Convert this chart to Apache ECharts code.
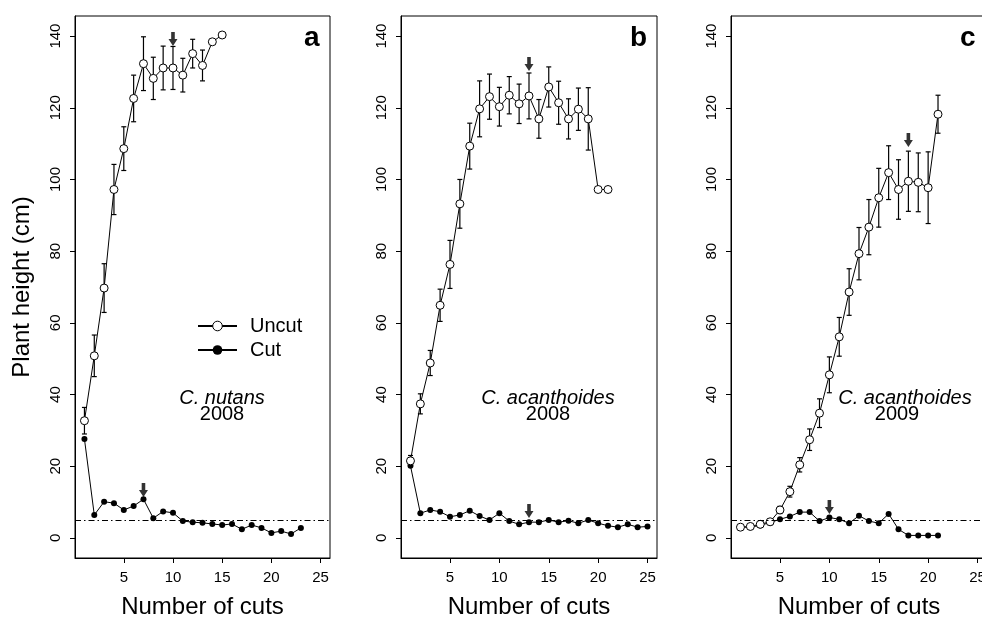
<!DOCTYPE html>
<html>
<head>
<meta charset="utf-8">
<script src="https://cdn.jsdelivr.net/npm/echarts@6/dist/echarts.min.js"></script>
<style>
html,body{margin:0;padding:0;background:#fff;}
#chart{width:982px;height:623px;}
</style>
</head>
<body>
<div id="chart"></div>
<script>
// ---- data ----
var xTicks = [5, 10, 15, 20, 25];
var yTicks = [0, 20, 40, 60, 80, 100, 120, 140];

// Panel a: C. nutans 2008
var uncutA = [32.7, 50.8, 69.7, 97.2, 108.6, 122.6, 132.3, 128.2, 131.1, 131.1, 129.1, 135.1, 131.8, 138.4, 140.3];
var seA    = [3.7, 5.8, 6.8, 7.0, 6.1, 6.5, 7.5, 5.9, 6.1, 6.0, 4.7, 4.0, 4.3, 0, 0];
var cutA   = [27.6, 6.4, 10.1, 9.7, 7.8, 8.9, 10.8, 5.5, 7.4, 7.0, 4.7, 4.4, 4.2, 3.9, 3.6, 3.9, 2.4, 3.6, 2.8, 1.4, 1.9, 1.1, 2.8];
var arrowsA = [[10, 139.2], [7, 13.4]];

// Panel b: C. acanthoides 2008
var uncutB = [21.5, 37.4, 48.8, 64.9, 76.3, 93.2, 109.3, 119.7, 123.1, 120.3, 123.5, 121.1, 123.3, 116.9, 125.8, 121.4, 116.9, 119.6, 116.9, 97.2, 97.2];
var seB    = [1.5, 2.8, 3.5, 4.5, 6.7, 6.8, 6.4, 7.8, 6.3, 5.4, 5.2, 5.5, 6.4, 5.4, 5.6, 6.0, 5.6, 5.9, 8.7, 0, 0];
var cutB   = [20.1, 6.9, 7.8, 7.3, 5.9, 6.4, 7.6, 6.1, 5.0, 6.9, 4.7, 3.8, 4.4, 4.4, 5.0, 4.4, 4.8, 4.1, 5.0, 4.1, 3.4, 3.0, 3.8, 3.0, 3.2];
var arrowsB = [[13, 132.2], [13, 7.5]];

// Panel c: C. acanthoides 2009
var uncutC = [3.0, 3.2, 3.8, 4.5, 7.8, 12.9, 20.4, 27.4, 34.8, 45.5, 56.1, 68.6, 79.3, 86.7, 94.9, 101.9, 97.2, 99.5, 99.2, 97.7, 118.2];
var seC    = [0.5, 0.5, 0.8, 0.8, 1.0, 1.5, 2.0, 3.0, 4.0, 5.0, 5.4, 6.5, 7.3, 7.7, 8.2, 7.5, 8.3, 8.4, 8.2, 10.0, 5.3];
var cutC   = [3.0, 3.0, 3.5, 4.3, 5.2, 6.0, 7.2, 7.2, 4.7, 5.7, 5.2, 4.1, 6.2, 4.7, 4.1, 6.7, 2.4, 0.7, 0.7, 0.7, 0.7];
var arrowsC = [[18, 111], [10, 8.6]];

var threshold = 5;
var panelLetters = ['a', 'b', 'c'];
var speciesNames = ['C. nutans', 'C. acanthoides', 'C. acanthoides'];
var years = ['2008', '2008', '2009'];

// ---- layout ----
var FONT = '"Liberation Sans", Arial, Helvetica, sans-serif';
var panels = [
  {uncut: uncutA, se: seA, cut: cutA, arrows: arrowsA, left: 75, width: 255},
  {uncut: uncutB, se: seB, cut: cutB, arrows: arrowsB, left: 401, width: 256},
  {uncut: uncutC, se: seC, cut: cutC, arrows: arrowsC, left: 731, width: 256}
];
var TOP = 16, HEIGHT = 542;

function toXY(arr) { return arr.map(function (v, i) { return [i + 1, v]; }); }
function errData(m, s) {
  var out = [];
  m.forEach(function (v, i) { if (s[i] > 0) out.push([i + 1, v - s[i], v + s[i]]); });
  return out;
}
function renderErr(params, api) {
  var x = api.value(0), lo = api.value(1), hi = api.value(2);
  var p1 = api.coord([x, lo]), p2 = api.coord([x, hi]);
  var w = 2.5;
  var st = {stroke: '#000', lineWidth: 1.2};
  return {type: 'group', children: [
    {type: 'line', shape: {x1: p1[0], y1: p1[1], x2: p2[0], y2: p2[1]}, style: st},
    {type: 'line', shape: {x1: p1[0] - w, y1: p1[1], x2: p1[0] + w, y2: p1[1]}, style: st},
    {type: 'line', shape: {x1: p2[0] - w, y1: p2[1], x2: p2[0] + w, y2: p2[1]}, style: st}
  ]};
}
var arrowPath = 'path://M3,0 L7,0 L7,7 L10,7 L5,14 L0,7 L3,7 Z';

var grids = [], xAxes = [], yAxes = [], series = [], graphics = [];
panels.forEach(function (p, i) {
  grids.push({left: p.left, top: TOP, width: p.width, height: HEIGHT, show: true,
    borderColor: '#000', borderWidth: 1, backgroundColor: 'transparent',
    containLabel: false, outerBoundsMode: 'none'});
  xAxes.push({type: 'value', gridIndex: i, min: 0.04, max: 25.96,
    axisLine: {show: true, onZero: false, lineStyle: {color: '#000', width: 1}},
    axisTick: {show: true, length: 5, customValues: xTicks, lineStyle: {color: '#000'}},
    axisLabel: {customValues: xTicks, fontSize: 15, color: '#000', margin: 12, fontFamily: FONT},
    splitLine: {show: false},
    name: 'Number of cuts', nameLocation: 'middle', nameGap: 37,
    nameTextStyle: {fontSize: 24, color: '#000', fontFamily: FONT}});
  var ya = {type: 'value', gridIndex: i, min: -5.6, max: 145.6,
    axisLine: {show: true, onZero: false, lineStyle: {color: '#000', width: 1}},
    axisTick: {show: true, length: 5, customValues: yTicks, lineStyle: {color: '#000'}},
    axisLabel: {customValues: yTicks, rotate: 90, fontSize: 15, color: '#000', margin: 12, fontFamily: FONT},
    splitLine: {show: false}};
  if (i === 0) {
    ya.name = 'Plant height (cm)';
    ya.nameLocation = 'middle';
    ya.nameGap = 41;
    ya.nameTextStyle = {fontSize: 24, color: '#000', fontFamily: FONT};
  }
  yAxes.push(ya);

  series.push({type: 'custom', xAxisIndex: i, yAxisIndex: i, renderItem: renderErr,
    encode: {x: 0, y: [1, 2]}, data: errData(p.uncut, p.se), z: 1, silent: true});
  series.push({name: 'Cut', type: 'line', xAxisIndex: i, yAxisIndex: i, data: toXY(p.cut),
    symbol: 'circle', symbolSize: 6, color: '#000',
    itemStyle: {color: '#000', borderWidth: 0},
    lineStyle: {color: '#000', width: 1}, z: 2,
    markLine: {silent: true, symbol: 'none', label: {show: false},
      lineStyle: {color: '#000', width: 1, type: [6, 3, 1.5, 3]},
      data: [{yAxis: threshold}]}});
  series.push({name: 'Uncut', type: 'line', xAxisIndex: i, yAxisIndex: i, data: toXY(p.uncut),
    symbol: 'circle', symbolSize: 8, color: '#000',
    itemStyle: {color: '#fff', borderColor: '#000', borderWidth: 1},
    lineStyle: {color: '#000', width: 1}, z: 3});
  series.push({type: 'scatter', xAxisIndex: i, yAxisIndex: i, data: p.arrows,
    symbol: arrowPath, symbolSize: [9, 14], itemStyle: {color: '#000'}, z: 4, silent: true});

  graphics.push({type: 'text', left: p.left + 229, top: 24,
    style: {text: panelLetters[i], font: 'bold 28px ' + FONT, fill: '#000'}});
});

// species / year annotations
var annCenters = [222, 548, 905];
var yearCenters = [222, 548, 897];
annCenters.forEach(function (cx, i) {
  graphics.push({type: 'text', x: cx, y: 398,
    style: {text: speciesNames[i], font: 'italic 20px ' + FONT, fill: '#000', align: 'center', verticalAlign: 'middle'}});
  graphics.push({type: 'text', x: yearCenters[i], y: 414,
    style: {text: years[i], font: '20px ' + FONT, fill: '#000', align: 'center', verticalAlign: 'middle'}});
});

var chart = echarts.init(document.getElementById('chart'), null, {renderer: 'canvas'});
chart.setOption({
  animation: false,
  backgroundColor: '#fff',
  textStyle: {fontFamily: FONT},
  grid: grids,
  xAxis: xAxes,
  yAxis: yAxes,
  legend: {data: [{name: 'Uncut', itemStyle: {borderWidth: 1}}, {name: 'Cut'}], orient: 'vertical', left: 192, top: 311,
    itemWidth: 39, itemHeight: 12, itemGap: 4, selectedMode: false,
    textStyle: {fontSize: 20, color: '#000', fontFamily: FONT, padding: [0, 0, 0, 8]}},
  graphic: graphics,
  series: series
});
</script>
</body>
</html>
